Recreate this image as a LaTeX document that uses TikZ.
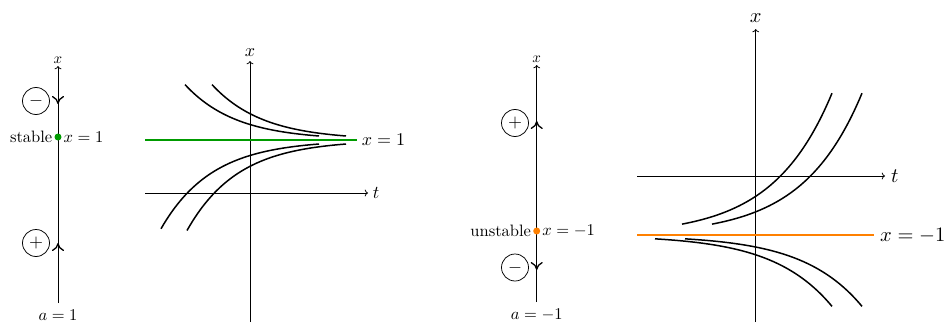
\documentclass[tikz,border=0pt]{standalone}
\usetikzlibrary{arrows.meta}
\definecolor{stablegreen}{RGB}{0,155,0}
\definecolor{unstableorange}{RGB}{255,128,0}
\tikzset{
  axisline/.style={line width=0.76pt, -{To}},
  phaseline/.style={line width=0.76pt, -{To}},
  midarrow/.style={line width=0.76pt, -{To[line width=1.3pt,length=8pt,width=12pt]}},
  soln/.style={line width=1.5pt},
  eqline/.style={line width=1.8pt},
  signnode/.style={draw, circle, line width=0.76pt, minimum size=15pt, inner sep=0pt, scale=1.8},
  dotnode/.style={circle, inner sep=0pt, minimum size=7pt},
  phaselab/.style={inner sep=1pt, scale=1.65},
  phasetop/.style={inner sep=1.5pt, scale=1.5},
  leftlab/.style={inner sep=2.5pt, scale=1.8},
  rightlab/.style={inner sep=2.8pt, scale=2.05}
}
\begin{document}
\begin{tikzpicture}[x=1pt,y=-1pt]
\useasboundingbox (0,0) rectangle (947,322);
% ---------- left phase line (a = 1)
\coordinate (p1b) at (58,303);
\coordinate (p1t) at (58,66);
\draw[phaseline] (p1b) -- (p1t);
\node[phasetop, anchor=south] (p1x) at (p1t) {$x$};
\node[phaselab, anchor=base] (p1a) at (58,320) {$a=1$};
\coordinate (d1s) at (58,88);
\coordinate (d1e) at (58,104);
\draw[midarrow] (d1s) -- (d1e);
\coordinate (u1s) at (58,260);
\coordinate (u1e) at (58,243);
\draw[midarrow] (u1s) -- (u1e);
\node[signnode] (m1) at (36,101) {$-$};
\node[signnode] (pl1) at (36,243) {$+$};
\node[dotnode, fill=stablegreen] (s1) at (58,137) {};
\node[phaselab, anchor=east] (st1) at (s1.west) {stable};
\node[phaselab, anchor=west] (sx1) at (s1.east) {$x=1$};
% ---------- left graph
\coordinate (g1b) at (250,322);
\coordinate (g1t) at (250,61);
\coordinate (g1l) at (145,193);
\coordinate (g1r) at (368,193);
\draw[axisline] (g1b) -- (g1t);
\draw[axisline] (g1l) -- (g1r);
\node[leftlab, anchor=south] (g1x) at (g1t) {$x$};
\node[leftlab, anchor=west] (g1tt) at (g1r) {$t$};
\coordinate (e1l) at (145,140);
\coordinate (e1r) at (357,140);
\draw[eqline, stablegreen] (e1l) -- (e1r);
\node[leftlab, anchor=west] (e1lab) at (e1r) {$x=1$};
\draw[soln] plot[domain=185:319, samples=60] (\x, {140-15.5*exp(-(\x-250)/51)});
\draw[soln] plot[domain=212:346, samples=60] (\x, {140-15.5*exp(-(\x-277)/51)});
\draw[soln] plot[domain=161:319, samples=60] (\x, {140+15.5*exp(-(\x-250)/51)});
\draw[soln] plot[domain=187:346, samples=60] (\x, {140+15.5*exp(-(\x-277)/51)});
% ---------- right phase line (a = -1)
\coordinate (p2b) at (536.7,302);
\coordinate (p2t) at (536.7,65);
\draw[phaseline] (p2b) -- (p2t);
\node[phasetop, anchor=south] (p2x) at (p2t) {$x$};
\node[phaselab, anchor=base] (p2a) at (536.7,319) {$a=-1$};
\coordinate (u2s) at (536.7,138);
\coordinate (u2e) at (536.7,121);
\draw[midarrow] (u2s) -- (u2e);
\coordinate (d2s) at (536.7,254);
\coordinate (d2e) at (536.7,270);
\draw[midarrow] (d2s) -- (d2e);
\node[signnode] (pl2) at (515,123) {$+$};
\node[signnode] (m2) at (515,267.5) {$-$};
\node[dotnode, fill=unstableorange] (s2) at (536.7,231) {};
\node[phaselab, anchor=east] (st2) at (s2.west) {unstable};
\node[phaselab, anchor=west] (sx2) at (s2.east) {$x=-1$};
% ---------- right graph
\coordinate (g2b) at (755.7,322);
\coordinate (g2t) at (755.7,29);
\coordinate (g2l) at (637,176);
\coordinate (g2r) at (885,176);
\draw[axisline] (g2b) -- (g2t);
\draw[axisline] (g2l) -- (g2r);
\node[rightlab, anchor=south] (g2x) at (g2t) {$x$};
\node[rightlab, anchor=west] (g2tt) at (g2r) {$t$};
\coordinate (e2l) at (637,235.3);
\coordinate (e2r) at (874,235.3);
\draw[eqline, unstableorange] (e2l) -- (e2r);
\node[rightlab, anchor=west] (e2lab) at (e2r) {$x=-1$};
\draw[soln] plot[domain=682:832, samples=60] (\x, {235.3-39*exp((\x-755.7)/59)});
\draw[soln] plot[domain=712:862, samples=60] (\x, {235.3-39*exp((\x-785.7)/59)});
\draw[soln] plot[domain=655:832, samples=60] (\x, {235.3+19.5*exp((\x-755.7)/59)});
\draw[soln] plot[domain=685:862, samples=60] (\x, {235.3+19.5*exp((\x-785.7)/59)});
\end{tikzpicture}
\end{document}
